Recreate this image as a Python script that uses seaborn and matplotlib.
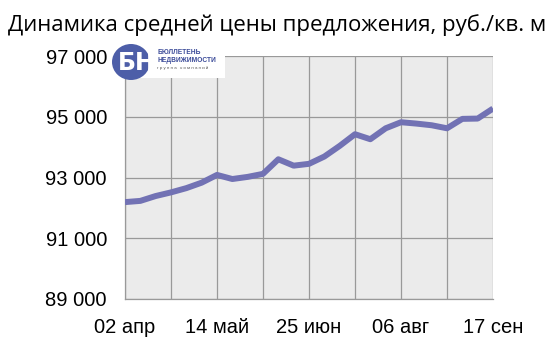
import matplotlib
matplotlib.use("Agg")
import matplotlib.pyplot as plt
import matplotlib.patches as mpatches
import seaborn as sns
import pandas as pd
import numpy as np

# Data (weekly, 02 Apr .. 17 Sep)
start_date = "2012-04-02"
n_weeks = 25
prices = [92190, 92230, 92390, 92510, 92650, 92830, 93085, 92950, 93020, 93120,
          93600, 93390, 93450, 93690, 94040, 94425, 94260, 94620, 94820, 94775,
          94720, 94620, 94930, 94940, 95270]
tick_labels = ["02 апр", "14 май", "25 июн", "06 авг", "17 сен"]
y_ticks = [89000, 91000, 93000, 95000, 97000]
title = "Динамика средней цены предложения, руб./кв. м"

dates = pd.date_range(start_date, periods=n_weeks, freq="7D")
df = pd.DataFrame({"date": dates, "price": prices})

sns.set_style("white")
plt.rcParams['font.family'] = ['Liberation Sans', 'DejaVu Sans']

fig = plt.figure(figsize=(5.54, 3.48), dpi=100)
ax = fig.add_axes([125/554, 1-299/348, (493-125)/554, (299-56)/348])
ax.set_facecolor("#ebebeb")

sns.lineplot(data=df, x="date", y="price", ax=ax, color="#7272b4", linewidth=4.3,
             solid_capstyle="butt", zorder=3)

ax.set_xlim(dates[0], dates[-1])
ax.set_ylim(y_ticks[0], y_ticks[-1])
ax.set_yticks(y_ticks)
ax.set_yticklabels([f"{v:,}".replace(",", " ") for v in y_ticks], fontsize=14.5)
major = dates[::6]
ax.set_xticks(major)
ax.set_xticklabels(tick_labels, fontsize=14.5)
ax.set_xticks(dates[3::6], minor=True)
ax.set_xlabel("")
ax.set_ylabel("")

gc = "#999999"
ax.grid(True, which="both", axis="x", color=gc, linewidth=0.9)
ax.grid(True, which="major", axis="y", color=gc, linewidth=0.9)
ax.set_axisbelow(True)
for s in ["top", "right"]:
    ax.spines[s].set_visible(False)
for s in ["left", "bottom"]:
    ax.spines[s].set_color(gc)
    ax.spines[s].set_linewidth(0.9)
ax.tick_params(axis="y", which="major", direction="out", length=6, color=gc,
               width=0.9, pad=7, labelcolor="black")
ax.tick_params(axis="x", which="major", direction="out", length=6, color=gc,
               width=0.9, pad=8, labelcolor="black")
ax.tick_params(axis="x", which="minor", length=0)

fig.text(277/554, 1-25/348, title, ha="center", va="center", fontsize=16,
         family=["Open Sans", "DejaVu Sans"], color="black")

# logo approximation
fig.patches.append(mpatches.Rectangle((135/554, 1-78/348), 90/554, 33/348,
                                      transform=fig.transFigure, facecolor="white",
                                      edgecolor="none", zorder=5))
fig.patches.append(mpatches.Ellipse((131/554, 1-62/348), 38/554, 36/348,
                                    transform=fig.transFigure, facecolor="#4d5ea8",
                                    edgecolor="none", zorder=6))
fig.text(137/554, 1-63/348, "БН", fontsize=17, fontweight="bold", color="white",
         ha="center", va="center", zorder=7, family=["DejaVu Sans"])
fig.text(157/554, 1-53/348, "БЮЛЛЕТЕНЬ", fontsize=4.8, fontweight="bold",
         color="#3a4a98", ha="left", va="center", zorder=7)
fig.text(157/554, 1-60/348, "НЕДВИЖИМОСТИ", fontsize=4.8, fontweight="bold",
         color="#3a4a98", ha="left", va="center", zorder=7)
fig.text(157/554, 1-68/348, "г р у п п а   к о м п а н и й", fontsize=3.2,
         color="#555555", ha="left", va="center", zorder=7)

fig.savefig("out.png", dpi=100)
